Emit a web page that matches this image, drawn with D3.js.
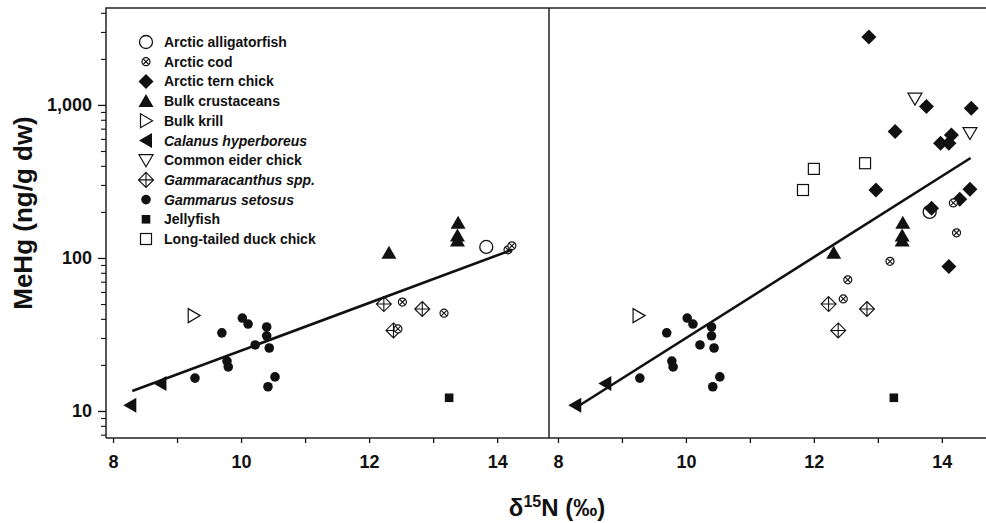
<!DOCTYPE html>
<html>
  <head>
    <title>MeHg vs d15N</title>
    <script src="https://d3js.org/d3.v7.min.js"></script>
    <style>
      body { margin: 0; background: #fff; }
      text { font-family: "Liberation Sans", Arial, sans-serif; font-weight: bold; fill: #111; }
    </style>
  </head>
  <body>
    <div id="vis"></div>
    <script>
      // legend entries (name, symbol, italic)
      var legendNames = ["Arctic alligatorfish", "Arctic cod", "Arctic tern chick", "Bulk crustaceans", "Bulk krill",
        "Calanus hyperboreus", "Common eider chick", "Gammaracanthus spp.", "Gammarus setosus", "Jellyfish", "Long-tailed duck chick"];
      var legendSymbols = ["circleOpen", "circleX", "diamond", "triUp", "triRight", "triLeft", "triDown", "diamondCross", "dot", "squareFilled", "squareOpen"];
      var legendItalic = [false, false, false, false, false, true, false, true, true, false, false];

      // data, [d15N, MeHg]
      var calanus = [[8.27, 10.9], [8.74, 15.1]];
      var krill = [[9.26, 42]];
      var gammarus = [[9.28, 16.4], [9.70, 32.4], [9.78, 21.2], [9.80, 19.4], [10.02, 40.5], [10.11, 37],
        [10.22, 27], [10.40, 35.4], [10.40, 31], [10.44, 25.8], [10.42, 14.4], [10.53, 16.7]];
      var gammaracanthus = [[12.23, 50], [12.83, 46.4], [12.38, 33.6]];
      var crustaceans = [[12.31, 108], [13.39, 170], [13.38, 140], [13.38, 130]];
      var jellyfish = [[13.25, 12.2]];
      var codLeft = [[12.52, 51.5], [12.45, 34.4], [13.17, 43.6], [14.17, 113], [14.23, 120]];
      var codRight = [[12.46, 54], [12.53, 72], [13.19, 95], [14.18, 229], [14.23, 146]];
      var alligatorLeft = [[13.83, 118]];
      var alligatorRight = [[13.81, 200]];
      var tern = [[12.86, 2780], [13.76, 975], [14.46, 950], [13.27, 670], [14.15, 637], [13.98, 562],
        [14.11, 562], [12.97, 278], [14.44, 281], [14.28, 242], [13.84, 211], [14.11, 88]];
      var eider = [[13.58, 1100], [14.44, 655]];
      var duck = [[12.0, 382], [11.83, 278], [12.8, 416]];
      var fitLeft = [[8.30, 13.5], [14.23, 113]];
      var fitRight = [[8.34, 10.9], [14.45, 450]];

      var xTicks = [8, 9, 10, 11, 12, 13, 14];
      var yMajor = [10, 100, 1000];
      var yMinor = [7, 8, 9, 20, 30, 40, 50, 60, 70, 80, 90, 200, 300, 400, 500, 600, 700, 800, 900, 2000, 3000, 4000];

      var width = 986, height = 523;
      var plotTop = 8, plotBottom = 438;

      var svg = d3.select("#vis").append("svg")
        .attr("width", width).attr("height", height);

      var y = d3.scaleLog().domain([6.66, 4300]).range([plotBottom, plotTop]);
      var xL = d3.scaleLinear().domain([7.89, 14.81]).range([106, 549]);
      var xR = d3.scaleLinear().domain([7.86, 14.8]).range([549, 993]);

      var ink = "#111";

      function symbol(g, type, cx, cy) {
        var s;
        if (type == "circleOpen") {
          g.append("circle").attr("cx", cx).attr("cy", cy).attr("r", 6.5)
            .attr("fill", "#fff").attr("stroke", ink).attr("stroke-width", 1.3);
        } else if (type == "circleX") {
          g.append("circle").attr("cx", cx).attr("cy", cy).attr("r", 4)
            .attr("fill", "#fff").attr("stroke", ink).attr("stroke-width", 1.2);
          s = 2.8;
          g.append("path").attr("d", "M" + (cx - s) + "," + (cy - s) + "L" + (cx + s) + "," + (cy + s) +
            "M" + (cx - s) + "," + (cy + s) + "L" + (cx + s) + "," + (cy - s))
            .attr("stroke", ink).attr("stroke-width", 1.1);
        } else if (type == "diamond") {
          s = 7.5;
          g.append("path").attr("d", "M" + cx + "," + (cy - s) + "L" + (cx + s) + "," + cy + "L" + cx + "," + (cy + s) + "L" + (cx - s) + "," + cy + "Z")
            .attr("fill", ink);
        } else if (type == "diamondCross") {
          s = 7.5;
          g.append("path").attr("d", "M" + cx + "," + (cy - s) + "L" + (cx + s) + "," + cy + "L" + cx + "," + (cy + s) + "L" + (cx - s) + "," + cy + "Z" +
            "M" + cx + "," + (cy - s) + "L" + cx + "," + (cy + s) + "M" + (cx - s) + "," + cy + "L" + (cx + s) + "," + cy)
            .attr("fill", "none").attr("stroke", ink).attr("stroke-width", 1.1);
        } else if (type == "triUp") {
          g.append("path").attr("d", "M" + cx + "," + (cy - 7) + "L" + (cx + 7.5) + "," + (cy + 6) + "L" + (cx - 7.5) + "," + (cy + 6) + "Z")
            .attr("fill", ink);
        } else if (type == "triLeft") {
          g.append("path").attr("d", "M" + (cx - 7) + "," + cy + "L" + (cx + 6) + "," + (cy - 7.5) + "L" + (cx + 6) + "," + (cy + 7.5) + "Z")
            .attr("fill", ink);
        } else if (type == "triRight") {
          g.append("path").attr("d", "M" + (cx + 6.5) + "," + cy + "L" + (cx - 5.5) + "," + (cy - 7) + "L" + (cx - 5.5) + "," + (cy + 7) + "Z")
            .attr("fill", "#fff").attr("stroke", ink).attr("stroke-width", 1.2);
        } else if (type == "triDown") {
          g.append("path").attr("d", "M" + cx + "," + (cy + 6.5) + "L" + (cx + 7) + "," + (cy - 5.5) + "L" + (cx - 7) + "," + (cy - 5.5) + "Z")
            .attr("fill", "#fff").attr("stroke", ink).attr("stroke-width", 1.2);
        } else if (type == "dot") {
          g.append("circle").attr("cx", cx).attr("cy", cy).attr("r", 4.8).attr("fill", ink);
        } else if (type == "squareFilled") {
          g.append("rect").attr("x", cx - 4.3).attr("y", cy - 4.3).attr("width", 8.6).attr("height", 8.6).attr("fill", ink);
        } else if (type == "squareOpen") {
          g.append("rect").attr("x", cx - 5.5).attr("y", cy - 5.5).attr("width", 11).attr("height", 11)
            .attr("fill", "#fff").attr("stroke", ink).attr("stroke-width", 1.2);
        }
      }

      function drawPanel(x, sets, fit) {
        var g = svg.append("g");
        sets.forEach(function (set) {
          set[1].forEach(function (d) { symbol(g, set[0], x(d[0]), y(d[1])); });
        });
        g.append("path")
          .attr("d", d3.line().x(function (d) { return x(d[0]); }).y(function (d) { return y(d[1]); })(fit))
          .attr("fill", "none").attr("stroke", ink).attr("stroke-width", 2.6);

        var ax = svg.append("g").attr("transform", "translate(0," + plotBottom + ")")
          .call(d3.axisBottom(x).tickValues(xTicks).tickSize(5).tickPadding(12)
            .tickFormat(function (d) { return d % 2 == 0 ? d : ""; }));
        ax.select(".domain").remove();
        ax.selectAll("line").attr("stroke", ink).attr("stroke-width", 1.3);
        ax.selectAll("text").style("font-size", "18px").attr("fill", ink);
      }

      drawPanel(xL, [["squareFilled", jellyfish], ["triLeft", calanus], ["triRight", krill], ["dot", gammarus],
        ["diamondCross", gammaracanthus], ["circleX", codLeft], ["triUp", crustaceans], ["circleOpen", alligatorLeft]], fitLeft);
      drawPanel(xR, [["squareFilled", jellyfish], ["triLeft", calanus], ["triRight", krill], ["dot", gammarus],
        ["diamondCross", gammaracanthus], ["squareOpen", duck], ["triUp", crustaceans], ["circleOpen", alligatorRight],
        ["diamond", tern], ["circleX", codRight], ["triDown", eider]], fitRight);

      // frame
      svg.append("path")
        .attr("d", "M106," + plotBottom + "V" + plotTop + "H" + width + "M549," + plotTop + "V" + plotBottom + "M106," + plotBottom + "H" + width)
        .attr("fill", "none").attr("stroke", "#222").attr("stroke-width", 1.5);

      // y axis
      var ay = svg.append("g").attr("transform", "translate(106,0)")
        .call(d3.axisLeft(y).tickValues(yMajor).tickSize(8).tickPadding(6).tickFormat(d3.format(",")));
      ay.select(".domain").remove();
      ay.selectAll("line").attr("stroke", ink).attr("stroke-width", 1.3);
      ay.selectAll("text").style("font-size", "18px").attr("fill", ink);
      var ay2 = svg.append("g").attr("transform", "translate(106,0)")
        .call(d3.axisLeft(y).tickValues(yMinor).tickSize(5).tickFormat(""));
      ay2.select(".domain").remove();
      ay2.selectAll("line").attr("stroke", ink).attr("stroke-width", 1.1);

      // legend
      var leg = svg.append("g");
      legendNames.forEach(function (name, i) {
        var ly = 42 + i * 19.7;
        symbol(leg, legendSymbols[i], 146, ly);
        leg.append("text").attr("x", 164).attr("y", ly).attr("dy", "0.36em")
          .style("font-size", "14px").style("font-style", legendItalic[i] ? "italic" : "normal")
          .text(name);
      });

      // titles
      svg.append("text")
        .attr("transform", "translate(32,213) rotate(-90)")
        .attr("text-anchor", "middle").style("font-size", "26px")
        .text("MeHg (ng/g dw)");
      var xt = svg.append("text").attr("x", 557).attr("y", 516).attr("text-anchor", "middle").style("font-size", "24px");
      xt.append("tspan").text("δ");
      xt.append("tspan").attr("dy", -9).style("font-size", "16px").text("15");
      xt.append("tspan").attr("dy", 9).text("N (‰)");
    </script>
  </body>
</html>
